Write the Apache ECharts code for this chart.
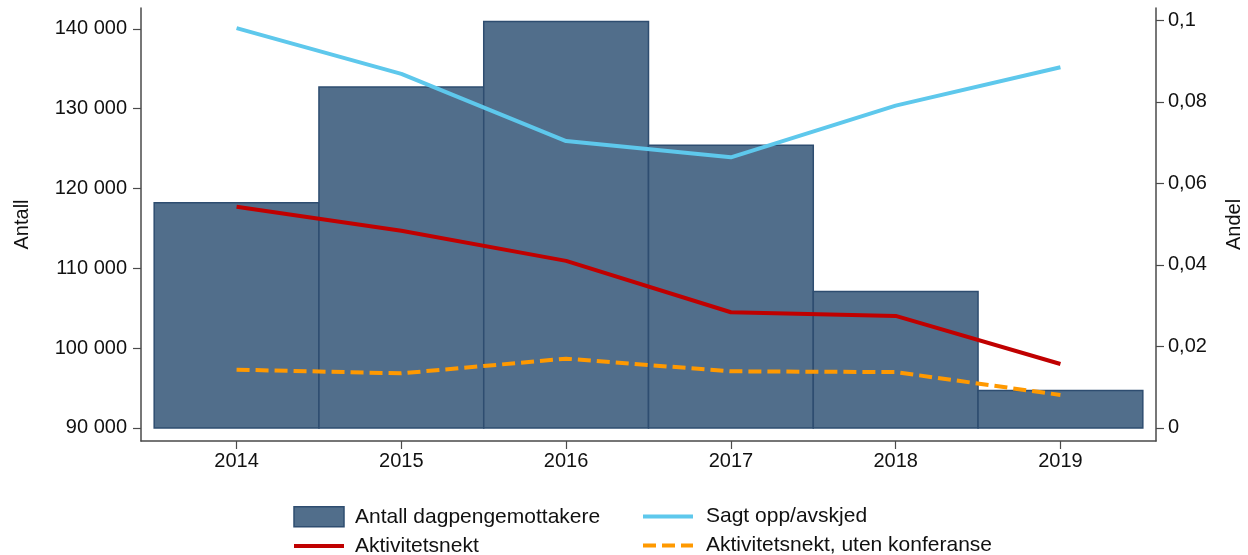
<!DOCTYPE html>
<html>
<head>
<meta charset="utf-8">
<script src="https://cdn.jsdelivr.net/npm/echarts@6/dist/echarts.min.js"></script>
<style>
  html, body { margin: 0; padding: 0; background: #fff; }
  #chart { width: 1248px; height: 555px; }
</style>
</head>
<body>
<div id="chart"></div>
<script>
// ---- data ----
const years = [2014, 2015, 2016, 2017, 2018, 2019];
const antallDagpenger = [118200, 132700, 140900, 125400, 107100, 94700];
const sagtOpp = [0.0981, 0.0869, 0.0704, 0.0664, 0.0791, 0.0885];
const aktivitetsnekt = [0.0543, 0.0484, 0.0410, 0.0284, 0.0275, 0.0157];
const aktivitetsnektUtenKonf = [0.0143, 0.0134, 0.0170, 0.0139, 0.0137, 0.0081];
const barBase = 90000;
const leftTicks = [90000, 100000, 110000, 120000, 130000, 140000];
const rightTicks = [0, 0.02, 0.04, 0.06, 0.08, 0.1];

const names = {
  bars: 'Antall dagpengemottakere',
  sagt: 'Sagt opp/avskjed',
  akt: 'Aktivitetsnekt',
  aktU: 'Aktivitetsnekt, uten konferanse'
};

const FONT = '"Liberation Sans", Arial, Helvetica, sans-serif';
const FS = 20;
const LFS = 21;
const AXIS_COLOR = '#4a4a4a';
const BAR_FILL = '#516e8b';
const BAR_STROKE = '#2e4d70';
const C_SAGT = '#5ec8ec';
const C_AKT = '#c00000';
const C_AKTU = '#ff9900';

const chart = echarts.init(document.getElementById('chart'), null, { renderer: 'canvas' });

const pair = (arr) => years.map((y, i) => [y, arr[i]]);
const hiddenSymbol = { color: 'rgba(0,0,0,0)', opacity: 0, borderWidth: 0 };

const option = {
  animation: false,
  backgroundColor: '#fff',
  textStyle: { fontFamily: FONT, color: '#111' },
  grid: { left: 141, right: 92, top: 8, bottom: 114, containLabel: false, outerBoundsMode: 'none' },
  xAxis: {
    type: 'value',
    min: 2013.42,
    max: 2019.58,
    splitLine: { show: false },
    axisLine: { show: true, onZero: false, lineStyle: { color: AXIS_COLOR, width: 1.5 } },
    axisTick: { show: true, length: 8, customValues: years, lineStyle: { color: AXIS_COLOR, width: 1.2 } },
    axisLabel: { customValues: years, margin: 10, fontSize: FS, fontFamily: FONT, color: '#111', formatter: v => String(v) }
  },
  yAxis: [
    {
      type: 'value',
      position: 'left',
      min: 88368,
      max: 142600,
      name: 'Antall',
      nameLocation: 'middle',
      nameRotate: 90,
      nameGap: 109,
      nameTextStyle: { fontSize: FS, fontFamily: FONT, color: '#111' },
      splitLine: { show: false },
      axisLine: { show: true, onZero: false, lineStyle: { color: AXIS_COLOR, width: 1.5 } },
      axisTick: { show: true, length: 8, customValues: leftTicks, lineStyle: { color: AXIS_COLOR, width: 1.2 } },
      axisLabel: {
        customValues: leftTicks, margin: 14, fontSize: FS, fontFamily: FONT, color: '#111',
        formatter: v => String(Math.round(v)).replace(/\B(?=(\d{3})+(?!\d))/g, ' ')
      }
    },
    {
      type: 'value',
      position: 'right',
      min: -0.0032,
      max: 0.10305,
      name: 'Andel',
      nameLocation: 'middle',
      nameRotate: 90,
      nameGap: 68,
      nameTextStyle: { fontSize: FS, fontFamily: FONT, color: '#111' },
      splitLine: { show: false },
      axisLine: { show: true, onZero: false, lineStyle: { color: AXIS_COLOR, width: 1.5 } },
      axisTick: { show: true, length: 8, customValues: rightTicks, lineStyle: { color: AXIS_COLOR, width: 1.2 } },
      axisLabel: {
        customValues: rightTicks, margin: 12, fontSize: FS, fontFamily: FONT, color: '#111',
        formatter: v => String(+v.toFixed(4)).replace('.', ',')
      }
    }
  ],
  legend: [
    {
      orient: 'vertical', left: 292, top: 506, height: 60, padding: 0,
      itemWidth: 50, itemHeight: 20, itemGap: 8,
      textStyle: { fontSize: LFS, lineHeight: 20, fontFamily: FONT, color: '#111', padding: [0, 0, 0, 6] },
      data: [
        { name: names.bars, icon: 'rect', itemStyle: { color: BAR_FILL, borderColor: BAR_STROKE, borderWidth: 1.5 } },
        { name: names.akt, itemStyle: hiddenSymbol, lineStyle: { color: C_AKT, width: 4 } }
      ]
    },
    {
      orient: 'vertical', left: 641, top: 506, height: 60, padding: 0,
      itemWidth: 50, itemHeight: 20, itemGap: 8,
      textStyle: { fontSize: LFS, lineHeight: 20, fontFamily: FONT, color: '#111', padding: [0, 0, 0, 8] },
      data: [
        { name: names.sagt, itemStyle: hiddenSymbol, lineStyle: { color: C_SAGT, width: 4 } },
        { name: names.aktU, itemStyle: hiddenSymbol, lineStyle: { color: C_AKTU, width: 4, type: [13, 6] } }
      ]
    }
  ],
  series: [
    {
      name: names.bars,
      type: 'custom',
      xAxisIndex: 0,
      yAxisIndex: 0,
      itemStyle: { color: BAR_FILL, borderColor: BAR_STROKE, borderWidth: 1.5 },
      encode: { x: 0, y: 1 },
      data: pair(antallDagpenger),
      renderItem: function (params, api) {
        const x = api.value(0);
        const v = api.value(1);
        const tl = api.coord([x - 0.5, v]);
        const br = api.coord([x + 0.5, barBase]);
        return {
          type: 'rect',
          shape: { x: tl[0], y: tl[1], width: br[0] - tl[0], height: br[1] - tl[1] },
          style: { fill: BAR_FILL, stroke: BAR_STROKE, lineWidth: 1.5 }
        };
      },
      z: 1
    },
    {
      name: names.sagt,
      type: 'line',
      yAxisIndex: 1,
      symbol: 'none',
      data: pair(sagtOpp),
      itemStyle: { color: C_SAGT },
      lineStyle: { color: C_SAGT, width: 4 },
      z: 3
    },
    {
      name: names.akt,
      type: 'line',
      yAxisIndex: 1,
      symbol: 'none',
      data: pair(aktivitetsnekt),
      itemStyle: { color: C_AKT },
      lineStyle: { color: C_AKT, width: 4 },
      z: 3
    },
    {
      name: names.aktU,
      type: 'line',
      yAxisIndex: 1,
      symbol: 'none',
      data: pair(aktivitetsnektUtenKonf),
      itemStyle: { color: C_AKTU },
      lineStyle: { color: C_AKTU, width: 4, type: [13, 6] },
      z: 4
    }
  ]
};

chart.setOption(option);
</script>
</body>
</html>
